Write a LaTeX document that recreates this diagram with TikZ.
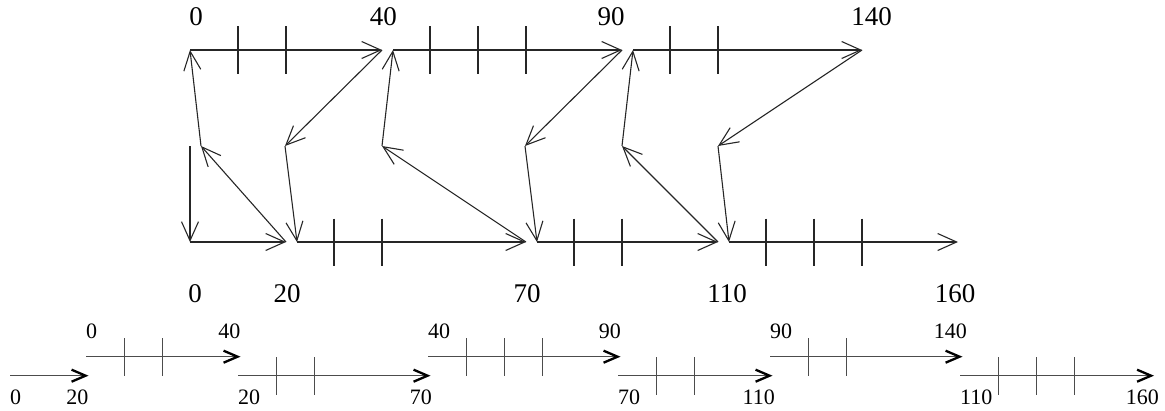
\documentclass[tikz,border=0pt]{standalone}
\usepackage{fontspec}
\setmainfont{Liberation Serif}
\usetikzlibrary{arrows.meta}
\begin{document}
\begin{tikzpicture}[x=1pt,y=-1pt,
  big/.style={font=\fontsize{27}{27}\selectfont, inner sep=0pt},
  small/.style={font=\fontsize{22}{22}\selectfont, inner sep=0pt},
  conn/.style={line width=1.1pt, draw=black!85, -{Straight Barb[length=19pt,width=17pt]}},
  tickline/.style={line width=1.1pt, draw=black!85},
  seg/.style={line width=0.9pt, draw=black!70, -{Straight Barb[length=14pt,width=12pt,line width=2.3pt,color=black]}},
  stick/.style={line width=0.9pt, draw=black!70}]
\useasboundingbox (0,0) rectangle (1165,410);

% ---------- main diagram points ----------
\coordinate (T0) at (190,50);
\coordinate (T40) at (382,50);
\coordinate (T40s) at (393,50);
\coordinate (T90) at (622,50);
\coordinate (T90s) at (633,50);
\coordinate (T140) at (862,50);
\coordinate (B0) at (190,242);
\coordinate (B20) at (286,242);
\coordinate (B20s) at (297,242);
\coordinate (B70) at (526,242);
\coordinate (B70s) at (537,242);
\coordinate (B110) at (718,242);
\coordinate (B110s) at (729,242);
\coordinate (B160) at (958,242);
\coordinate (M0v) at (190,146);
\coordinate (M0) at (201,146);
\coordinate (M20) at (285,146);
\coordinate (M40) at (382,146);
\coordinate (M70) at (525,146);
\coordinate (M90) at (622,146);
\coordinate (M110) at (718,146);

% ticks (top and bottom lines)
\foreach \x in {238,286,430,478,526,670,718}
  \draw[tickline] (\x,26) -- (\x,73.5);
\foreach \x in {334,382,574,622,766,814,862}
  \draw[tickline] (\x,218.5) -- (\x,265.5);

% connectors
\draw[conn] (M0v) -- (B0);
\draw[conn] (B0) -- (B20);
\draw[conn] (B20) -- (M0);
\draw[conn] (M0) -- (T0);
\draw[conn] (T0) -- (T40);
\draw[conn] (T40) -- (M20);
\draw[conn] (M20) -- (B20s);
\draw[conn] (B20s) -- (B70);
\draw[conn] (B70) -- (M40);
\draw[conn] (M40) -- (T40s);
\draw[conn] (T40s) -- (T90);
\draw[conn] (T90) -- (M70);
\draw[conn] (M70) -- (B70s);
\draw[conn] (B70s) -- (B110);
\draw[conn] (B110) -- (M90);
\draw[conn] (M90) -- (T90s);
\draw[conn] (T90s) -- (T140);
\draw[conn] (T140) -- (M110);
\draw[conn] (M110) -- (B110s);
\draw[conn] (B110s) -- (B160);

% labels
\node[big] (lt0) at (196,16.7) {0};
\node[big] (lt40) at (383.3,16.7) {40};
\node[big] (lt90) at (611,16.7) {90};
\node[big] (lt140) at (871.7,16.7) {140};
\node[big] (lb0) at (195,293.5) {0};
\node[big] (lb20) at (287,293.5) {20};
\node[big] (lb70) at (527,293.5) {70};
\node[big] (lb110) at (727,293.5) {110};
\node[big] (lb160) at (955,293.5) {160};

% ---------- bottom strip ----------
\coordinate (a1s) at (10,375.7);   \coordinate (a1e) at (88.5,375.7);
\coordinate (a2s) at (86,356.7);   \coordinate (a2e) at (240.5,356.7);
\coordinate (a3s) at (238,375.7);  \coordinate (a3e) at (430.5,375.7);
\coordinate (a4s) at (428,356.7);  \coordinate (a4e) at (620.5,356.7);
\coordinate (a5s) at (618,375.7);  \coordinate (a5e) at (772.5,375.7);
\coordinate (a6s) at (770,356.7);  \coordinate (a6e) at (962.5,356.7);
\coordinate (a7s) at (960,375.7);  \coordinate (a7e) at (1154,375.7);

\foreach \x in {124,162,466,504,542,808,846}
  \draw[stick] (\x,338.2) -- (\x,375.7);
\foreach \x in {276,314,656,694,998,1036,1074}
  \draw[stick] (\x,357.2) -- (\x,394.7);

\draw[seg] (a1s) -- (a1e);
\draw[seg] (a2s) -- (a2e);
\draw[seg] (a3s) -- (a3e);
\draw[seg] (a4s) -- (a4e);
\draw[seg] (a5s) -- (a5e);
\draw[seg] (a6s) -- (a6e);
\draw[seg] (a7s) -- (a7e);

\node[small,anchor=west] (s1a) at (10,397.5) {0};
\node[small,anchor=east] (s1b) at (88.5,397.5) {20};
\node[small,anchor=west] (s2a) at (86,331.5) {0};
\node[small,anchor=east] (s2b) at (240.5,331.5) {40};
\node[small,anchor=west] (s3a) at (238,397.5) {20};
\node[small,anchor=east] (s3b) at (432,397.5) {70};
\node[small,anchor=west] (s4a) at (428,331.5) {40};
\node[small,anchor=east] (s4b) at (621,331.5) {90};
\node[small,anchor=west] (s5a) at (618,397.5) {70};
\node[small,anchor=east] (s5b) at (775,397.5) {110};
\node[small,anchor=west] (s6a) at (770,331.5) {90};
\node[small,anchor=east] (s6b) at (967,331.5) {140};
\node[small,anchor=west] (s7a) at (960,397.5) {110};
\node[small,anchor=east] (s7b) at (1159,397.5) {160};
\end{tikzpicture}
\end{document}
